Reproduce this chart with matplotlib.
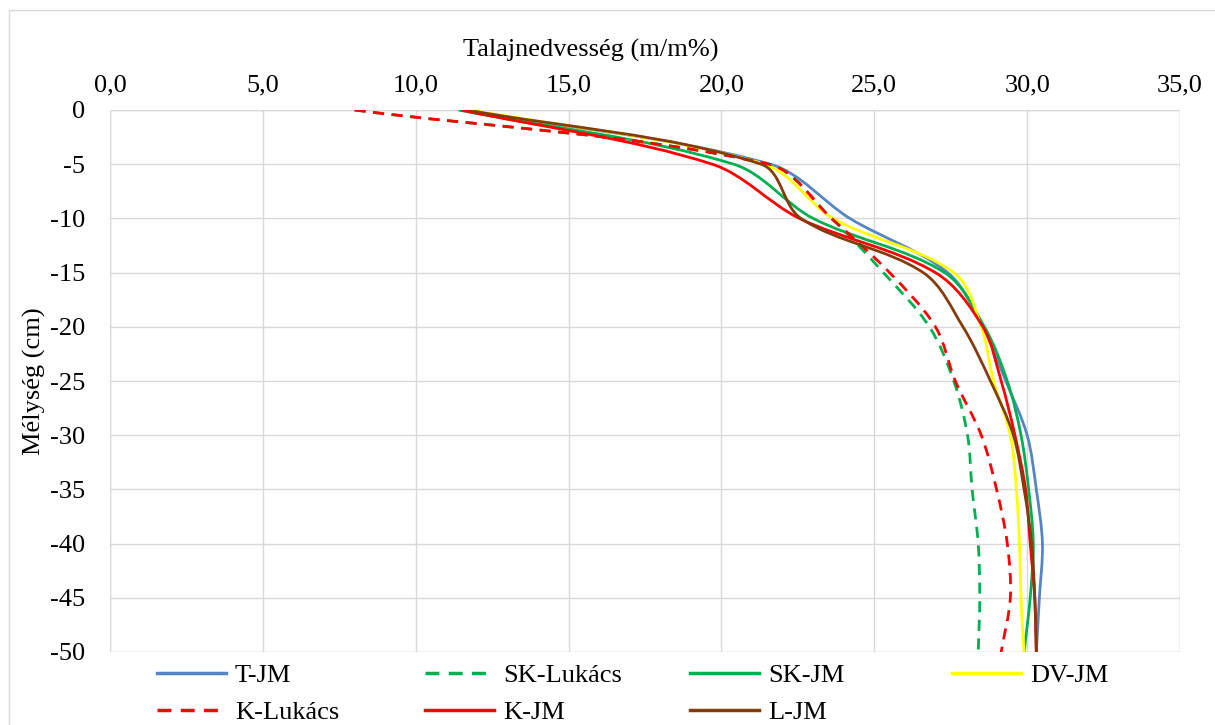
import matplotlib
matplotlib.use("Agg")
from matplotlib import pyplot as plt
from matplotlib.path import Path
from matplotlib.patches import PathPatch, Rectangle
from matplotlib.lines import Line2D
from matplotlib.ticker import FuncFormatter
import numpy as np

# depth of measurement (cm)
depth = [0, -5, -10, -15, -20, -25, -30, -35, -40, -45, -50]

# soil moisture (m/m%) per method
t_jm = [11.6, 21.6, 24.2, 27.4, 28.55, 29.3, 30.0, 30.3, 30.5, 30.4, 30.3]
sk_lukacs = [8.0, 21.55, 23.6, 25.3, 26.8, 27.6, 28.05, 28.2, 28.4, 28.45, 28.4]
sk_jm = [11.4, 20.4, 23.0, 27.3, 28.6, 29.35, 29.8, 30.05, 30.2, 30.1, 29.9]
dv_jm = [11.8, 21.4, 23.65, 27.6, 28.5, 28.9, 29.45, 29.65, 29.75, 29.8, 29.9]
k_lukacs = [8.0, 21.55, 23.6, 25.5, 27.0, 27.65, 28.5, 29.0, 29.35, 29.45, 29.15]
k_jm = [11.5, 19.7, 22.55, 27.0, 28.55, 29.15, 29.6, 29.95, 30.1, 30.25, 30.3]
l_jm = [11.7, 21.3, 22.6, 26.6, 27.9, 28.8, 29.55, 29.9, 30.15, 30.25, 30.3]

series_names = ["T-JM", "SK-Lukács", "SK-JM", "DV-JM", "K-Lukács", "K-JM", "L-JM"]
series_values = [t_jm, sk_lukacs, sk_jm, dv_jm, k_lukacs, k_jm, l_jm]
series_colors = ["#5585C5", "#00B050", "#00B050", "#FFFF00", "#FF0000", "#FF0000", "#843C0C"]
series_dashed = [False, True, False, False, True, False, False]

x_ticks = [0, 5, 10, 15, 20, 25, 30, 35]
y_ticks = [0, -5, -10, -15, -20, -25, -30, -35, -40, -45, -50]

DASH = (0, (4, 2.7))
LW = 2.0
FS = 19

W, H = 1215, 725
AX_L, AX_R, AX_T, AX_B = 110, 1180, 110, 652
SX = (AX_R - AX_L) / 35.0   # px per x unit
SY = (AX_B - AX_T) / 50.0   # px per y unit


def smooth_path(xs, ys, s=0.33):
    # Excel-like smoothed line, tangents worked out in screen space
    p = np.column_stack([np.asarray(xs) * SX, np.asarray(ys) * SY])
    n = len(p)
    tang = []
    for i in range(n):
        d = p[min(i + 1, n - 1)] - p[max(i - 1, 0)]
        tang.append(d / np.hypot(*d))
    verts = [tuple(p[0])]
    codes = [Path.MOVETO]
    for i in range(n - 1):
        L = np.hypot(*(p[i + 1] - p[i]))
        c1 = p[i] + tang[i] * L * s
        c2 = p[i + 1] - tang[i + 1] * L * s
        verts += [tuple(c1), tuple(c2), tuple(p[i + 1])]
        codes += [Path.CURVE4] * 3
    verts = [(vx / SX, vy / SY) for vx, vy in verts]
    return Path(verts, codes)


plt.rcParams["font.family"] = ["Liberation Serif", "DejaVu Serif"]
plt.rcParams["axes.unicode_minus"] = False

fig = plt.figure(figsize=(12.15, 7.25), dpi=100)
ax = fig.add_axes([AX_L / W, 1 - AX_B / H, (AX_R - AX_L) / W, (AX_B - AX_T) / H])

# chart border
fig.patches.append(Rectangle((9 / W, -0.1), 2, 1.1 - 10 / H, transform=fig.transFigure,
                             fill=False, edgecolor="#D9D9D9", linewidth=1.0))

handles = []
for name, vals, col, dashed in zip(series_names, series_values, series_colors, series_dashed):
    ls = DASH if dashed else "-"
    patch = PathPatch(smooth_path(vals, depth), fill=False, edgecolor=col, linewidth=LW,
                      linestyle=ls, capstyle="butt", joinstyle="round")
    ax.add_patch(patch)
    handles.append(Line2D([], [], color=col, linewidth=LW + 0.5, linestyle=ls, label=name))

ax.set_xlim(0, 35)
ax.set_ylim(-50, 0)
ax.set_xticks(x_ticks)
ax.set_yticks(y_ticks)
ax.xaxis.set_major_formatter(FuncFormatter(lambda v, p: f"{v:.1f}".replace(".", ",")))
ax.yaxis.set_major_formatter(FuncFormatter(lambda v, p: f"{int(round(v))}"))
ax.xaxis.tick_top()
ax.xaxis.set_label_position("top")
ax.tick_params(axis="x", length=0, pad=10, labelsize=FS)
ax.tick_params(axis="y", length=0, pad=18, labelsize=FS)
ax.grid(True, color="#D9D9D9", linewidth=1.0)
ax.set_axisbelow(True)
for sp in ax.spines.values():
    sp.set_visible(False)
for xv in (0, 35):
    ax.axvline(xv, color="#D9D9D9", linewidth=1.0, zorder=0)
for yv in (0, -50):
    ax.axhline(yv, color="#D9D9D9", linewidth=1.0, zorder=0)

ax.set_xlabel("Talajnedvesség (m/m%)", fontsize=FS)
ax.xaxis.set_label_coords((591 - AX_L) / (AX_R - AX_L), (AX_B - 57) / (AX_B - AX_T))
ax.set_ylabel("Mélység (cm)", fontsize=FS)
ax.yaxis.set_label_coords((46 - AX_L) / (AX_R - AX_L), 0.5)

# legend laid out as Excel does: four equal columns, two rows
columns = [[0, 4], [1, 5], [2, 6], [3]]
col_x = [157, 425, 690, 952]
for idx, cx in zip(columns, col_x):
    fig.legend(handles=[handles[i] for i in idx], loc="upper left",
               bbox_to_anchor=(cx / W, 1 - 664 / H), frameon=False, fontsize=FS,
               handlelength=2.6, handletextpad=0.35, borderpad=0, borderaxespad=0,
               labelspacing=0.5)

fig.savefig("out.png", dpi=100)
